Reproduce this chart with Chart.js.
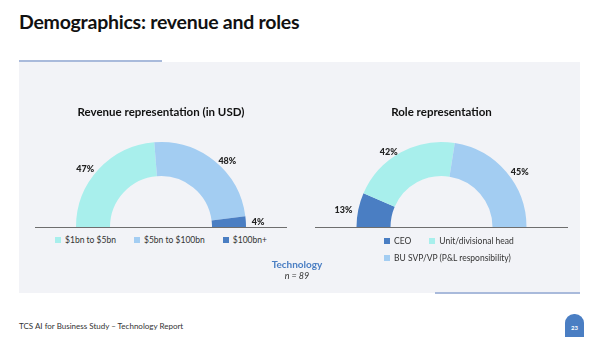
<!DOCTYPE html>
<html>
<head>
<meta charset="utf-8">
<script src="https://cdn.jsdelivr.net/npm/chart.js@4/dist/chart.umd.min.js"></script>
<style>
  body { margin: 0; background: #fff; font-family: Lato, "Open Sans", sans-serif; }
  #slide { position: relative; width: 600px; height: 337px; overflow: hidden; background: #fff; }
  .title { position: absolute; left: 19px; top: 10px; font-size: 19.5px; letter-spacing: -0.25px; font-weight: bold; color: #111; }
  .topline { position: absolute; left: 19px; top: 60px; width: 143px; height: 2px; background: #a9badb; }
  .panel { position: absolute; left: 19px; top: 62px; width: 561px; height: 231px; background: #f2f3f7; }
  .botline { position: absolute; left: 435px; top: 292px; width: 145px; height: 2px; background: #a9badb; }
  canvas { position: absolute; }
  .legend { position: absolute; font-size: 8.5px; color: #333; white-space: nowrap; }
  .legend span.item { display: inline-block; margin-right: 18px; }
  .legend span.item:last-child { margin-right: 0; }
  .legend i { display: inline-block; width: 6px; height: 6px; margin-right: 4px; vertical-align: 0px; }
  .tech { position: absolute; left: 247px; width: 100px; text-align: center; top: 258px; font-size: 10px; font-weight: bold; color: #4a7ec3; }
  .n { position: absolute; left: 247px; width: 100px; text-align: center; top: 270px; font-size: 9px; font-style: italic; color: #333; }
  .footer { position: absolute; left: 19px; top: 321px; font-size: 8px; color: #333; }
  .page { position: absolute; left: 565px; top: 314px; width: 19px; height: 23px; background: #4a7ec3; border-radius: 9px 9px 0 0; color: #fff; font-size: 6px; text-align: center; line-height: 28px; font-weight: bold; }
</style>
</head>
<body>
<div id="slide">
  <div class="title">Demographics: revenue and roles</div>
  <div class="panel"></div>
  <div class="topline"></div>
  <div class="botline"></div>
  <canvas id="revenueChart" width="252" height="140" style="left:35px;top:95px"></canvas>
  <canvas id="roleChart" width="253" height="140" style="left:315px;top:95px"></canvas>
  <div class="legend" id="revenueLegend" style="left:40px;width:242px;text-align:center;top:235px"></div>
  <div class="legend" id="roleLegend" style="left:384px;top:233px;line-height:17px"></div>
  <div class="tech">Technology</div>
  <div class="n">n = 89</div>
  <div class="footer">TCS AI for Business Study – Technology Report</div>
  <div class="page">23</div>
</div>
<script>
// revenue split
const revenueLabels = ['$1bn to $5bn', '$5bn to $100bn', '$100bn+'];
const revenueValues = [47, 48, 4];
// role split
const roleLabels = ['CEO', 'Unit/divisional head', 'BU SVP/VP (P&L responsibility)'];
const roleValues = [13, 42, 45];

const cyan = '#a8efec';
const lightBlue = '#a3cdf2';
const darkBlue = '#4a7ec3';
const revenueColors = [cyan, lightBlue, darkBlue];
const roleColors = [darkBlue, cyan, lightBlue];

// percent labels just outside the ring, pushed away sideways
const pctLabels = {
  id: 'pctLabels',
  afterDatasetsDraw(chart) {
    const ctx = chart.ctx;
    const meta = chart.getDatasetMeta(0);
    const values = chart.data.datasets[0].data;
    ctx.save();
    ctx.font = '900 9px Lato, sans-serif';
    ctx.fillStyle = '#222';
    ctx.textBaseline = 'middle';
    meta.data.forEach((arc, i) => {
      const p = arc.getProps(['x', 'y', 'startAngle', 'endAngle', 'outerRadius'], true);
      const mid = (p.startAngle + p.endAngle) / 2;
      const r = p.outerRadius + 6;
      ctx.textAlign = Math.cos(mid) >= 0 ? 'left' : 'right';
      ctx.fillText(values[i] + '%', p.x + Math.cos(mid) * r, p.y + Math.sin(mid) * (r - 6));
    });
    ctx.restore();
  }
};

// base line under the half ring
const baseLine = {
  id: 'baseLine',
  afterDraw(chart) {
    const ctx = chart.ctx;
    const y = Math.round(chart.chartArea.bottom) + 0.5;
    ctx.save();
    ctx.strokeStyle = '#6e6e6e';
    ctx.lineWidth = 1;
    ctx.beginPath();
    ctx.moveTo(0, y);
    ctx.lineTo(chart.width, y);
    ctx.stroke();
    ctx.restore();
  }
};

function makeHalfDonut(id, title, labels, values, colors) {
  new Chart(document.getElementById(id), {
    type: 'doughnut',
    data: {
      labels: labels,
      datasets: [{ data: values, backgroundColor: colors, borderWidth: 0 }]
    },
    options: {
      responsive: false,
      animation: false,
      rotation: -90,
      circumference: 180,
      cutout: '60%',
      layout: { padding: { bottom: 8 } },
      plugins: {
        legend: { display: false },
        tooltip: { enabled: false },
        title: {
          display: true,
          text: title,
          color: '#111',
          font: { family: 'Lato', size: 11.5, weight: 'bold', lineHeight: 1.2 },
          padding: { top: 10, bottom: 23.2 }
        }
      }
    },
    plugins: [pctLabels, baseLine]
  });
}

function makeLegend(id, labels, colors, breakAfter) {
  const el = document.getElementById(id);
  el.innerHTML = labels.map((l, i) =>
    '<span class="item"><i style="background:' + colors[i] + '"></i>' + l + '</span>' +
    (i === breakAfter ? '<br>' : '')).join('');
}

makeHalfDonut('revenueChart', 'Revenue representation (in USD)', revenueLabels, revenueValues, revenueColors);
makeHalfDonut('roleChart', 'Role representation', roleLabels, roleValues, roleColors);
makeLegend('revenueLegend', revenueLabels, revenueColors, -1);
makeLegend('roleLegend', roleLabels, roleColors, 1);
</script>
</body>
</html>
